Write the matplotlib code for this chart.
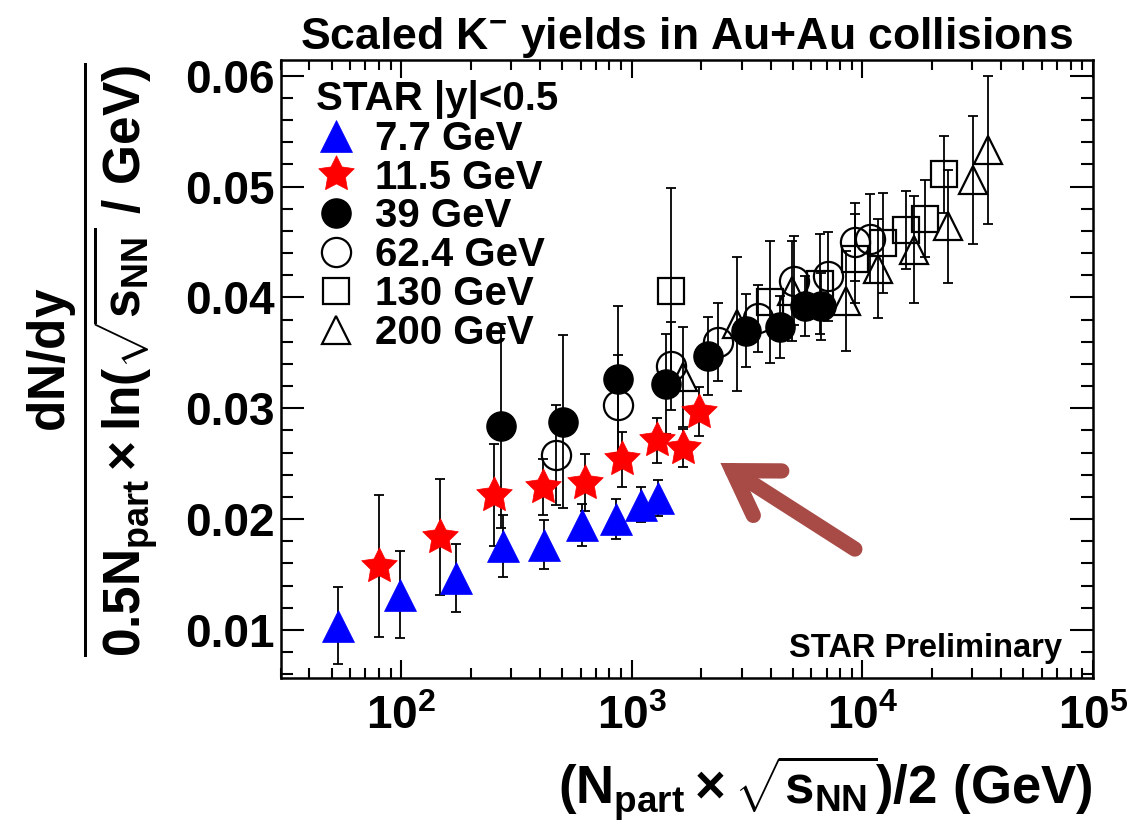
import matplotlib
matplotlib.use("Agg")
import matplotlib.pyplot as plt
from matplotlib.lines import Line2D
from matplotlib.ticker import FixedLocator, LogLocator, FormatStrFormatter, NullFormatter, MultipleLocator

plt.rcParams['font.family'] = ['Liberation Sans', 'DejaVu Sans']
plt.rcParams['font.weight'] = 'bold'
plt.rcParams['mathtext.fontset'] = 'custom'
plt.rcParams['mathtext.rm'] = 'Liberation Sans:bold'
plt.rcParams['mathtext.it'] = 'Liberation Sans:bold'
plt.rcParams['mathtext.bf'] = 'Liberation Sans:bold'
plt.rcParams['mathtext.sf'] = 'Liberation Sans:bold'

# ---------------- data ----------------
labels = ['7.7 GeV', '11.5 GeV', '39 GeV', '62.4 GeV', '130 GeV', '200 GeV']

x_7p7 = [53, 99, 173, 276, 418, 611, 859, 1102, 1300]
y_7p7 = [0.0104, 0.0132, 0.0147, 0.0176, 0.0177, 0.0195, 0.0200, 0.0213, 0.0219]
e_7p7 = [0.0035, 0.0039, 0.0031, 0.0028, 0.0022, 0.0019, 0.0018, 0.0016, 0.0016]

x_11p5 = [80, 147, 253, 411, 628, 912, 1285, 1661, 1963]
y_11p5 = [0.0158, 0.0184, 0.0222, 0.0229, 0.0233, 0.0254, 0.0271, 0.0264, 0.0297]
e_11p5 = [0.0064, 0.0052, 0.0046, 0.0025, 0.0026, 0.0025, 0.0020, 0.0017, 0.0022]

x_39 = [272, 502, 873, 1406, 2145, 3118, 4400, 5623, 6650]
y_39 = [0.0284, 0.0288, 0.0326, 0.0322, 0.0347, 0.0370, 0.0373, 0.0392, 0.0392]
e_39 = [0.0092, 0.0078, 0.0066, 0.0045, 0.0035, 0.0033, 0.0028, 0.0027, 0.0030]

x_62p4 = [469, 873, 1486, 2377, 3524, 5036, 7116, 9262, 10770]
y_62p4 = [0.0258, 0.0303, 0.0338, 0.0360, 0.0381, 0.0415, 0.0419, 0.0450, 0.0453]
e_62p4 = [0.0045, 0.0045, 0.0040, 0.0035, 0.0030, 0.0040, 0.0040, 0.0035, 0.0040]

x_130 = [1486, 3963, 6530, 9262, 12250, 15460, 18700, 22600]
y_130 = [0.0406, 0.0396, 0.0412, 0.0435, 0.0449, 0.0461, 0.0471, 0.0511]
e_130 = [0.0093, 0.0055, 0.0045, 0.0040, 0.0045, 0.0035, 0.0035, 0.0035]

x_200 = [1667, 2872, 4957, 8500, 11700, 16800, 23450, 30080, 35140]
y_200 = [0.0328, 0.0376, 0.0406, 0.0397, 0.0426, 0.0443, 0.0464, 0.0506, 0.0533]
e_200 = [0.0045, 0.0060, 0.0045, 0.0045, 0.0045, 0.0048, 0.0051, 0.0058, 0.0067]

y_ticks = [0.01, 0.02, 0.03, 0.04, 0.05, 0.06]

# ---------------- styles ----------------
styles = {
    '200 GeV':  dict(marker='^', ms=20, mfc='none', mec='black', mew=1.6, z=3),
    '130 GeV':  dict(marker='s', ms=19, mfc='none', mec='black', mew=1.6, z=4),
    '62.4 GeV': dict(marker='o', ms=21, mfc='none', mec='black', mew=1.6, z=5),
    '39 GeV':   dict(marker='o', ms=21, mfc='black', mec='black', mew=1.0, z=6),
    '11.5 GeV': dict(marker=(5, 1, 0), ms=27, mfc='red', mec='red', mew=0.5, z=7),
    '7.7 GeV':  dict(marker='^', ms=23, mfc='blue', mec='blue', mew=0.5, z=8),
}
series = {
    '7.7 GeV': (x_7p7, y_7p7, e_7p7),
    '11.5 GeV': (x_11p5, y_11p5, e_11p5),
    '39 GeV': (x_39, y_39, e_39),
    '62.4 GeV': (x_62p4, y_62p4, e_62p4),
    '130 GeV': (x_130, y_130, e_130),
    '200 GeV': (x_200, y_200, e_200),
}

fig = plt.figure(figsize=(11.29, 8.35), dpi=100)
ax = fig.add_axes([0.2485, 0.188, 0.7195, 0.740])

for name in ['200 GeV', '130 GeV', '62.4 GeV', '39 GeV', '11.5 GeV', '7.7 GeV']:
    xs, ys, es = series[name]
    st = styles[name]
    ax.errorbar(xs, ys, yerr=es, fmt='none', ecolor='black', elinewidth=1.3,
                capsize=3.5, capthick=1.3, zorder=st['z'])
    ax.plot(xs, ys, ls='none', marker=st['marker'], ms=st['ms'], mfc=st['mfc'],
            mec=st['mec'], mew=st['mew'], zorder=st['z'])

ax.set_xscale('log')
ax.set_xlim(30, 1e5)
ax.set_ylim(0.00567, 0.0614)

ax.yaxis.set_major_locator(FixedLocator(y_ticks))
ax.yaxis.set_minor_locator(MultipleLocator(0.002))
ax.yaxis.set_major_formatter(FormatStrFormatter('%.2f'))
ax.xaxis.set_major_locator(LogLocator(base=10, numticks=10))
ax.xaxis.set_minor_locator(LogLocator(base=10, subs=range(2, 10), numticks=20))
ax.xaxis.set_minor_formatter(NullFormatter())

ax.tick_params(axis='both', which='both', direction='in', top=True, right=True,
               width=1.5, colors='black', labelsize=33)
ax.yaxis.set_tick_params(which='major', length=16.5, pad=4)
ax.yaxis.set_tick_params(which='minor', length=8.6)
ax.xaxis.set_tick_params(which='major', length=13, pad=12)
ax.xaxis.set_tick_params(which='minor', length=7)
for sp in ax.spines.values():
    sp.set_linewidth(1.8)

ax.set_title('Scaled K$^{-}$ yields in Au+Au collisions', fontsize=32, fontweight='bold', pad=7)

ax.set_xlabel(r'$(N_{part}\times\sqrt{s_{NN}})/2\ (GeV)$', fontsize=38, loc='right')
ax.xaxis.set_label_coords(1.0, -0.122)
ax.set_ylabel(r'$\dfrac{dN/dy}{0.5N_{part}\times\ln(\sqrt{s_{NN}}\ /\ GeV)}$', fontsize=37)
ax.yaxis.set_label_coords(-0.149, 0.515)

handles = []
for name in labels:
    st = styles[name]
    handles.append(Line2D([], [], ls='none', marker=st['marker'], ms=st['ms'],
                          mfc=st['mfc'], mec=st['mec'], mew=st['mew']))
leg = ax.legend(handles, labels, title='STAR |y|<0.5', loc='upper left',
                bbox_to_anchor=(0.044, 0.968), frameon=False, fontsize=29,
                title_fontproperties={'weight': 'bold', 'size': 29},
                labelspacing=0.02, handlelength=1.0, handletextpad=0.45,
                borderpad=0, borderaxespad=0, alignment='left')

ax.text(0.962, 0.034, 'STAR Preliminary', transform=ax.transAxes, ha='right',
        va='baseline', fontsize=23.5, fontweight='bold')

ax.annotate('', xy=(0.5415, 0.348), xytext=(0.707, 0.2087),
            xycoords='axes fraction', textcoords='axes fraction',
            arrowprops=dict(arrowstyle='->, head_length=30, head_width=19',
                            mutation_scale=1, lw=11, color='#A84A46',
                            shrinkA=0, shrinkB=0, capstyle='round', joinstyle='miter'),
            zorder=10)

fig.savefig('out.png', dpi=100)
